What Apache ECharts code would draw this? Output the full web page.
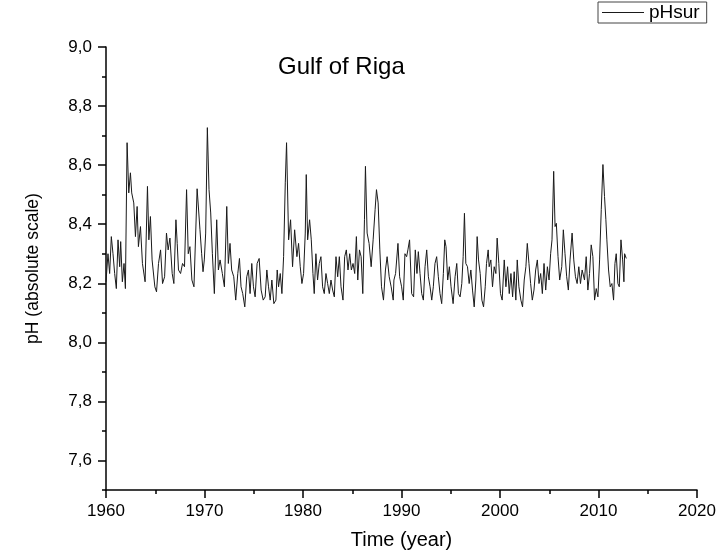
<!DOCTYPE html>
<html>
<head>
<meta charset="utf-8">
<title>Gulf of Riga</title>
<script src="https://cdn.jsdelivr.net/npm/echarts@6.0.0/dist/echarts.min.js"></script>
<style>
  html, body { margin: 0; padding: 0; background: #fff; }
  #chart { width: 720px; height: 557px; }
</style>
</head>
<body>
<div id="chart"></div>
<script>
// time (decimal year) and surface pH
var years = [
  1960.0, 1960.2, 1960.37, 1960.54, 1960.71, 1960.88, 1961.05, 1961.22, 1961.39, 1961.49, 1961.66, 1961.83, 1961.97,
  1962.14, 1962.31, 1962.48, 1962.61, 1962.82, 1962.99, 1963.16, 1963.29, 1963.5, 1963.7, 1963.97,
  1964.21, 1964.35, 1964.51, 1964.68, 1964.96, 1965.13, 1965.33, 1965.54, 1965.74, 1965.95,
  1966.14, 1966.31, 1966.49, 1966.72, 1966.89, 1967.1, 1967.23, 1967.36, 1967.57, 1967.77, 1967.97,
  1968.18, 1968.35, 1968.52, 1968.72, 1968.93, 1969.25, 1969.54, 1969.71, 1969.85, 1969.98,
  1970.12, 1970.29, 1970.46, 1970.63, 1970.8, 1971.0, 1971.24, 1971.41, 1971.58, 1971.81,
  1972.02, 1972.26, 1972.42, 1972.59, 1972.76, 1972.97, 1973.17, 1973.38, 1973.55, 1973.71, 1973.88,
  1974.09, 1974.29, 1974.46, 1974.63, 1974.8, 1974.97, 1975.14, 1975.34, 1975.55, 1975.75, 1975.96,
  1976.16, 1976.33, 1976.5, 1976.67, 1976.84, 1977.04, 1977.25, 1977.38, 1977.52, 1977.69, 1977.86,
  1978.03, 1978.2, 1978.33, 1978.54, 1978.74, 1978.94, 1979.15,
  1979.38, 1979.55, 1979.72, 1979.89, 1980.06, 1980.23, 1980.33, 1980.47, 1980.67, 1980.84,
  1981.01, 1981.14, 1981.31, 1981.48, 1981.65, 1981.82, 1981.99, 1982.16, 1982.33, 1982.5, 1982.67, 1982.84,
  1983.01, 1983.18, 1983.35, 1983.52, 1983.69, 1983.86, 1984.06, 1984.23, 1984.4, 1984.57, 1984.74, 1984.91,
  1985.08, 1985.25, 1985.42, 1985.56, 1985.73, 1985.9, 1986.07, 1986.24, 1986.34, 1986.51, 1986.71, 1986.92,
  1987.12, 1987.32, 1987.46, 1987.63, 1987.8, 1987.97, 1988.17, 1988.37, 1988.54, 1988.75, 1988.95,
  1989.16, 1989.23, 1989.4, 1989.64, 1989.81, 1990.01, 1990.18, 1990.35, 1990.52, 1990.65, 1990.82,
  1991.03, 1991.23, 1991.4, 1991.57, 1991.71, 1991.88, 1992.05, 1992.22, 1992.39, 1992.56, 1992.73, 1992.9,
  1993.07, 1993.23, 1993.4, 1993.57, 1993.74, 1993.91, 1994.08, 1994.25, 1994.39, 1994.52, 1994.69, 1994.86,
  1995.03, 1995.24, 1995.44, 1995.61, 1995.78, 1995.95, 1996.12, 1996.26, 1996.39, 1996.53, 1996.7, 1996.87,
  1997.04, 1997.21, 1997.38, 1997.55, 1997.68, 1997.82, 1997.99, 1998.16, 1998.33, 1998.5, 1998.63, 1998.8,
  1998.9, 1999.07, 1999.24, 1999.41, 1999.58, 1999.71, 1999.88,
  2000.05, 2000.22, 2000.43, 2000.6, 2000.77, 2000.94, 2001.11, 2001.28, 2001.44, 2001.61, 2001.75, 2001.92,
  2002.12, 2002.29, 2002.46, 2002.63, 2002.77, 2002.94, 2003.11, 2003.28, 2003.45, 2003.62, 2003.79, 2003.96,
  2004.13, 2004.3, 2004.47, 2004.64, 2004.81, 2004.98, 2005.14, 2005.28, 2005.45, 2005.59, 2005.72, 2005.89,
  2006.06, 2006.27, 2006.43, 2006.6, 2006.77, 2006.94, 2007.11, 2007.32, 2007.49, 2007.66, 2007.83,
  2008.0, 2008.17, 2008.34, 2008.58, 2008.75, 2008.92, 2009.09, 2009.26, 2009.43, 2009.6, 2009.77, 2009.94,
  2010.11, 2010.28, 2010.45, 2010.61, 2010.75, 2010.85, 2011.02, 2011.19, 2011.36, 2011.53, 2011.67, 2011.8,
  2011.97, 2012.11, 2012.28, 2012.45, 2012.58, 2012.65, 2012.82
];
var pHsur = [
  8.205, 8.30, 8.233, 8.358, 8.30, 8.233, 8.182, 8.347, 8.256, 8.341, 8.205, 8.267, 8.182,
  8.676, 8.506, 8.574, 8.506, 8.472, 8.358, 8.46, 8.324, 8.392, 8.267, 8.205,
  8.528, 8.347, 8.426, 8.279, 8.188, 8.171, 8.267, 8.313, 8.199, 8.222,
  8.37, 8.313, 8.353, 8.233, 8.199, 8.415, 8.335, 8.245, 8.233, 8.267, 8.256,
  8.517, 8.30, 8.324, 8.211, 8.188, 8.52, 8.381, 8.30, 8.239, 8.279,
  8.37, 8.727, 8.517, 8.438, 8.30, 8.165, 8.415, 8.245, 8.279, 8.233,
  8.188, 8.46, 8.267, 8.335, 8.245, 8.222, 8.143, 8.233, 8.284, 8.188, 8.165,
  8.12, 8.222, 8.245, 8.165, 8.267, 8.188, 8.154, 8.267, 8.284, 8.177, 8.143,
  8.154, 8.245, 8.188, 8.143, 8.211, 8.131, 8.143, 8.245, 8.188, 8.233, 8.165,
  8.29, 8.54, 8.676, 8.347, 8.415, 8.256, 8.381,
  8.29, 8.335, 8.256, 8.199, 8.233, 8.37, 8.568, 8.347, 8.415, 8.347,
  8.233, 8.165, 8.30, 8.211, 8.267, 8.29, 8.188, 8.165, 8.233, 8.199, 8.165, 8.211,
  8.177, 8.154, 8.29, 8.222, 8.29, 8.188, 8.143, 8.29, 8.313, 8.245, 8.30, 8.245,
  8.267, 8.233, 8.358, 8.211, 8.313, 8.29, 8.165, 8.415, 8.596, 8.37, 8.335, 8.256,
  8.347, 8.449, 8.517, 8.472, 8.313, 8.188, 8.143, 8.245, 8.29, 8.222, 8.188,
  8.143, 8.211, 8.233, 8.335, 8.222, 8.188, 8.143, 8.30, 8.29, 8.313, 8.347,
  8.165, 8.154, 8.313, 8.233, 8.307, 8.233, 8.165, 8.143, 8.256, 8.313, 8.222, 8.188,
  8.143, 8.188, 8.267, 8.29, 8.222, 8.165, 8.131, 8.233, 8.347, 8.324, 8.211, 8.256,
  8.188, 8.131, 8.222, 8.267, 8.165, 8.154, 8.199, 8.29, 8.437, 8.267, 8.256, 8.199,
  8.245, 8.177, 8.12, 8.211, 8.358, 8.279, 8.233, 8.143, 8.12, 8.188, 8.267, 8.313,
  8.256, 8.279, 8.188, 8.256, 8.233, 8.353, 8.267,
  8.165, 8.143, 8.279, 8.188, 8.256, 8.165, 8.233, 8.154, 8.239, 8.143, 8.279, 8.188,
  8.143, 8.12, 8.211, 8.256, 8.335, 8.267, 8.199, 8.143, 8.177, 8.245, 8.279, 8.199,
  8.233, 8.165, 8.267, 8.177, 8.256, 8.211, 8.30, 8.347, 8.579, 8.392, 8.403, 8.29,
  8.211, 8.256, 8.381, 8.30, 8.222, 8.177, 8.279, 8.37, 8.279, 8.222, 8.199,
  8.256, 8.199, 8.245, 8.211, 8.29, 8.177, 8.233, 8.33, 8.29, 8.143, 8.182, 8.154,
  8.279, 8.449, 8.602, 8.494, 8.415, 8.347, 8.245, 8.188, 8.199, 8.143, 8.267, 8.30,
  8.199, 8.188, 8.347, 8.279, 8.205, 8.30, 8.284
];
var xTicks = [1960, 1970, 1980, 1990, 2000, 2010, 2020];
var yTicks = [7.6, 7.8, 8.0, 8.2, 8.4, 8.6, 8.8, 9.0];
var yMinorTicks = [7.5, 7.7, 7.9, 8.1, 8.3, 8.5, 8.7, 8.9];

var seriesData = years.map(function (y, i) { return [y, pHsur[i]]; });

var chart = echarts.init(document.getElementById('chart'));
var font = 'Liberation Sans, Arial, sans-serif';

var option = {
    animation: false,
    backgroundColor: '#fff',
    title: {
        text: 'Gulf of Riga',
        left: 278,
        top: 55,
        padding: 0,
        textStyle: { fontFamily: font, fontSize: 24, fontWeight: 'normal', color: '#000' }
    },
    legend: {
        data: [{ name: 'pHsur', icon: 'rect' }],
        left: 598,
        top: 2,
        padding: [1, 7, 1, 4],
        borderColor: '#444',
        borderWidth: 1,
        borderRadius: 0,
        itemWidth: 42,
        itemHeight: 1,
        textStyle: { fontFamily: font, fontSize: 19, color: '#000' }
    },
    grid: { left: 106, right: 23, top: 47, bottom: 67 },
    xAxis: {
        type: 'value',
        min: 1960,
        max: 2020,
        interval: 10,
        name: 'Time (year)',
        nameLocation: 'middle',
        nameGap: 40,
        nameTextStyle: { fontFamily: font, fontSize: 20, color: '#000' },
        axisLine: { lineStyle: { color: '#000', width: 1.5 } },
        axisTick: { length: 8, lineStyle: { color: '#000', width: 1.5 } },
        minorTick: { show: true, splitNumber: 2, length: 4, lineStyle: { color: '#000', width: 1.5 } },
        axisLabel: {
            margin: 13,
            fontFamily: font,
            fontSize: 17,
            color: '#000',
            customValues: xTicks,
            formatter: function (v) { return String(v); }
        },
        splitLine: { show: false }
    },
    yAxis: [
        {
            type: 'value',
            min: 7.5,
            max: 9.0,
            position: 'left',
            name: 'pH (absolute scale)',
            nameLocation: 'middle',
            nameRotate: 90,
            nameGap: 64,
            nameTextStyle: { fontFamily: font, fontSize: 17.5, color: '#000' },
            axisLine: { show: true, lineStyle: { color: '#000', width: 1.5 } },
            axisTick: { show: true, length: 8, customValues: yTicks, lineStyle: { color: '#000', width: 1.5 } },
            axisLabel: {
                margin: 14,
                fontFamily: font,
                fontSize: 17,
                color: '#000',
                customValues: yTicks,
                formatter: function (v) { return v.toFixed(1).replace('.', ','); }
            },
            splitLine: { show: false }
        },
        {
            // only here to draw the short minor ticks
            type: 'value',
            min: 7.5,
            max: 9.0,
            position: 'left',
            offset: 0,
            axisLine: { show: false },
            axisTick: { show: true, length: 4, customValues: yMinorTicks, lineStyle: { color: '#000', width: 1.5 } },
            axisLabel: { show: false },
            splitLine: { show: false }
        }
    ],
    series: [
        {
            name: 'pHsur',
            type: 'line',
            yAxisIndex: 0,
            data: seriesData,
            symbol: 'none',
            lineStyle: { color: '#1a1a1a', width: 1 },
            itemStyle: { color: '#1a1a1a' }
        }
    ]
};

chart.setOption(option);
</script>
</body>
</html>
